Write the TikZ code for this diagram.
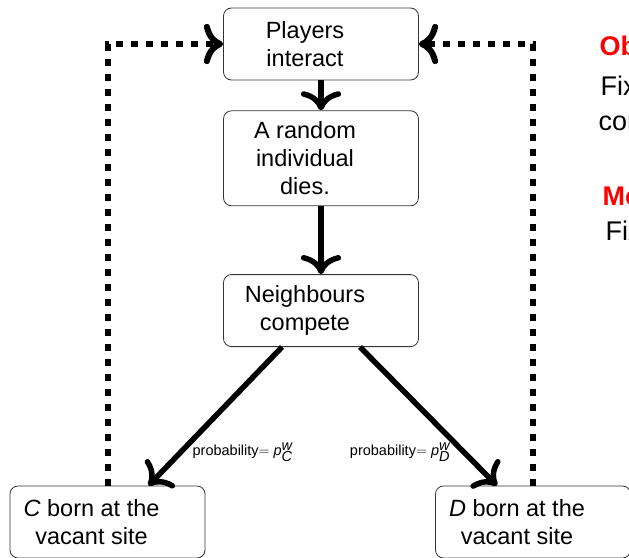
\documentclass[tikz,border=0pt]{standalone}
\usepackage{fontspec}
\setmainfont{Liberation Sans}
\usetikzlibrary{positioning,arrows.meta}
\definecolor{Heading}{HTML}{FF0000}
\newcommand{\boxtext}[1]{\parbox{150pt}{\centering #1}\kern32pt}

\begin{document}
\begin{tikzpicture}[
  x=1pt,y=-1pt,
  stepbox/.style={draw=black!80,line width=0.8pt,rounded corners=8pt,minimum width=195pt,minimum height=72pt,inner xsep=0pt,font=\fontsize{23.5}{28}\selectfont},
  arrow/.style={-{To[scale=1.4]},line width=5.5pt},
  feedback/.style={-{To[scale=1.3]},line width=6pt,dash pattern=on 7pt off 8pt},
  prob/.style={font=\fontsize{14.5}{17}\selectfont},
  side/.style={anchor=base west,font=\fontsize{27}{32}\selectfont},
  sidehead/.style={anchor=base west,text=Heading,font=\fontsize{27}{32}\selectfont\bfseries}
]
\useasboundingbox (0,0) rectangle (629,557);
\node[stepbox] (play) at (321,44) {\boxtext{Players\\interact}};
\node[stepbox,minimum height=95pt,below=30pt of play] (die) {\boxtext{A random\\individual\\dies.}};
\node[stepbox,below=68pt of die] (comp) {\boxtext{Neighbours\\compete}};
\node[stepbox] (cborn) at (107.5,522) {\boxtext{\textit{C} born at the\\vacant site}};
\node[stepbox] (dborn) at (533,522) {\boxtext{\textit{D} born at the\\vacant site}};
\draw[arrow] (play) -- (die);
\draw[arrow] (die) -- (comp);
\draw[arrow] ([xshift=-39pt]comp.south) -- ([xshift=41pt]cborn.north)
  node[prob,pos=0.76,anchor=west,xshift=6pt] (pc) {probability$=\textit{p}^{\textit{w}}_{\textit{C}}$};
\draw[arrow] ([xshift=39pt]comp.south) -- ([xshift=-36pt]dborn.north)
  node[prob,pos=0.76,anchor=east,xshift=-8pt] (pd) {probability$=\textit{p}^{\textit{w}}_{\textit{D}}$};
\draw[feedback] (cborn.north) |- (play.west);
\draw[feedback] (dborn.north) |- (play.east);
% cut-off slide text on the right
\node[sidehead] (obj) at (596,55) {Ob};
\node[side] (fix1) at (597,95) {Fix};
\node[side] (cor) at (595,130) {cor};
\node[sidehead] (mod) at (599,205) {Mo};
\node[side] (fix2) at (602,240) {Fix};
\end{tikzpicture}
\end{document}
